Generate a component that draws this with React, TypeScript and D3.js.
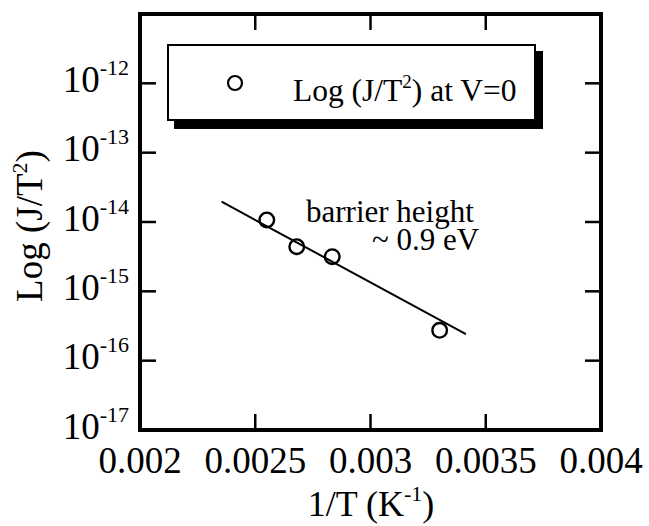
import React from "react";
import * as d3 from "d3";

const invT = [0.00255, 0.00268, 0.002834, 0.0033];
const jOverT2 = [1.07e-14, 4.4e-15, 3.16e-15, 2.74e-16];
const fitX = [0.002354, 0.003414];
const fitY = [1.96e-14, 2.42e-16];
const xTicks = [0.002, 0.0025, 0.003, 0.0035, 0.004];
const xTickLabels = ["0.002", "0.0025", "0.003", "0.0035", "0.004"];
const yExponents = [-12, -13, -14, -15, -16, -17];

const W = 649;
const H = 526;
const FONT = "'Liberation Serif', 'Times New Roman', serif";

export default function App() {
  const x = d3.scaleLinear().domain([0.002, 0.004]).range([140, 601]);
  const y = d3.scaleLog().domain([1e-17, 1e-11]).range([430, 14]);
  const line = d3
    .line<number>()
    .x((_, i) => x(fitX[i]))
    .y((d) => y(d));
  const tick = 16;
  const [x0, x1] = x.range();
  const [y0, y1] = y.range();

  return (
    <svg
      width={W}
      height={H}
      style={{ position: "absolute", left: 0, top: 0, background: "#fff" }}
      fontFamily={FONT}
    >
      {/* ticks */}
      {xTicks.slice(1, -1).map((t) => (
        <g key={"xt" + t}>
          <line x1={x(t)} x2={x(t)} y1={y0} y2={y0 - tick} stroke="#000" strokeWidth={2.5} />
          <line x1={x(t)} x2={x(t)} y1={y1} y2={y1 + tick} stroke="#000" strokeWidth={2.5} />
        </g>
      ))}
      {yExponents.slice(0, -1).map((e) => (
        <g key={"yt" + e}>
          <line x1={x0} x2={x0 + tick} y1={y(Math.pow(10, e))} y2={y(Math.pow(10, e))} stroke="#000" strokeWidth={2.5} />
          <line x1={x1} x2={x1 - tick} y1={y(Math.pow(10, e))} y2={y(Math.pow(10, e))} stroke="#000" strokeWidth={2.5} />
        </g>
      ))}
      {/* frame */}
      <rect x={x0} y={y1} width={x1 - x0} height={y0 - y1} fill="none" stroke="#000" strokeWidth={4} />

      {/* x tick labels */}
      {xTicks.map((t, i) => (
        <text key={"xl" + t} x={x(t)} y={473} fontSize={37} textAnchor="middle" fill="#000">
          {xTickLabels[i]}
        </text>
      ))}
      {/* y tick labels */}
      {yExponents.map((e) => (
        <text key={"yl" + e} x={129} y={y(Math.pow(10, e)) + 8.5} fontSize={37} textAnchor="end" fill="#000">
          10
          <tspan dy={-17} fontSize={22}>{String(e)}</tspan>
        </text>
      ))}

      {/* axis titles */}
      <text x={371} y={516} fontSize={36} textAnchor="middle" fill="#000">
        1/T (K
        <tspan dy={-15} fontSize={22}>-1</tspan>
        <tspan dy={15}>)</tspan>
      </text>
      <text transform="translate(42,226) rotate(-90)" fontSize={37} textAnchor="middle" fill="#000">
        Log (J/T
        <tspan dy={-15} fontSize={22}>2</tspan>
        <tspan dy={15}>)</tspan>
      </text>

      {/* legend */}
      <rect x={174} y={51} width={369} height={78} fill="#000" />
      <rect x={168} y={45} width={367} height={75} fill="#fff" stroke="#000" strokeWidth={2} />
      <circle cx={235} cy={83} r={7} fill="none" stroke="#000" strokeWidth={2.2} />
      <text x={293} y={101} fontSize={31.5} fill="#000">
        Log (J/T
        <tspan dy={-13} fontSize={19}>2</tspan>
        <tspan dy={13}>) at V=0</tspan>
      </text>

      {/* fit line */}
      <path d={line(fitY) || ""} fill="none" stroke="#000" strokeWidth={2} />
      {/* data points */}
      {invT.map((v, i) => (
        <circle key={"p" + i} cx={x(v)} cy={y(jOverT2[i])} r={7.3} fill="none" stroke="#000" strokeWidth={2.4} />
      ))}

      {/* annotation */}
      <text x={306} y={222} fontSize={31} fill="#000">barrier height</text>
      <text x={372} y={250} fontSize={31} fill="#000">~ 0.9 eV</text>
    </svg>
  );
}
